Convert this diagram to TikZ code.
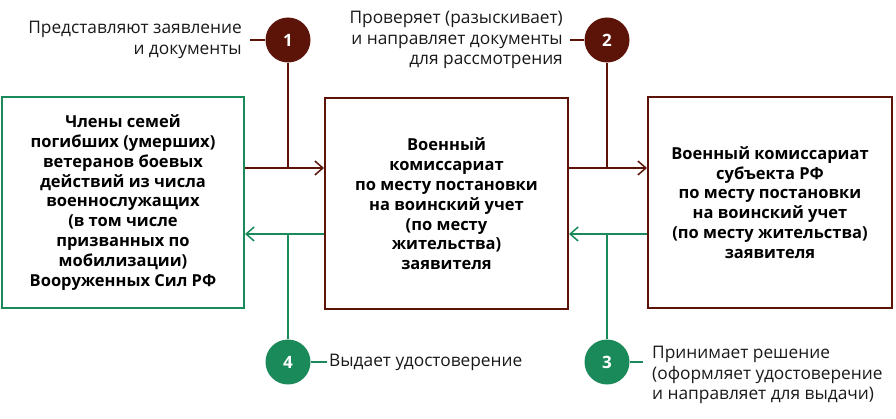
\documentclass[tikz,border=0pt]{standalone}
\usepackage{fontspec}
\setmainfont{Open Sans}
\usetikzlibrary{arrows.meta}
\definecolor{brn}{HTML}{5C1308}
\definecolor{grn}{HTML}{1B8A5A}
\begin{document}
\begin{tikzpicture}[x=1pt,y=-1pt,
  box/.style={draw, line width=2pt, minimum height=211pt, align=center, inner sep=0pt,
    font=\fontsize{16.5}{19.8}\selectfont\bfseries},
  num/.style={circle, minimum size=45pt, inner sep=0pt, text=white,
    font=\fontsize{17}{20}\selectfont\bfseries},
  lbl/.style={align=right, font=\fontsize{17.3}{20.5}\selectfont, text=black!90},
  lbll/.style={align=left, font=\fontsize{17.3}{20.5}\selectfont, text=black!90},
  bline/.style={draw=brn, line width=1.5pt},
  gline/.style={draw=grn, line width=1.5pt},
  tip/.style={-{Straight Barb[length=8pt,width=14pt,line width=1.5pt]}}
]
\useasboundingbox (0,0) rectangle (896,419);

\node[box, draw=grn, minimum width=242pt] (L) at (123,202.5)
  {Члены семей\\погибших (умерших)\\ветеранов боевых\\действий из числа\\военнослужащих\\(в том числе\\призванных по\\мобилизации)\\Вооруженных Сил РФ};
\node[box, draw=brn, minimum width=243pt] (M) at (446.5,204)
  {Военный\\комиссариат\\по месту постановки\\на воинский учет\\(по месту\\жительства)\\заявителя};
\node[box, draw=brn, minimum width=244pt] (R) at (770,202.5)
  {Военный комиссариат\\субъекта РФ\\по месту постановки\\на воинский учет\\(по месту жительства)\\заявителя};

\node[num, fill=brn] (C1) at (288,40) {1};
\node[num, fill=brn] (C2) at (607,40) {2};
\node[num, fill=grn] (C3) at (607,362) {3};
\node[num, fill=grn] (C4) at (288,362) {4};

\node[lbl, anchor=east, inner xsep=8pt, inner ysep=0pt] (T1) at (250,40)
  {Представляют заявление\\и документы};
\node[lbl, anchor=east, inner xsep=7pt, inner ysep=0pt] (T2) at (570,40)
  {Проверяет (разыскивает)\\и направляет документы\\для рассмотрения};
\node[lbll, anchor=west, inner xsep=2pt, inner ysep=0pt] (T4) at (327,362)
  {Выдает удостоверение};
\node[lbll, anchor=west, inner xsep=9pt, inner ysep=0pt] (T3) at (643,375)
  {Принимает решение\\(оформляет удостоверение\\и направляет для выдачи)};

\coordinate (a1) at ([yshift=34.5pt]L.east);
\coordinate (a2) at ([yshift=-31.5pt]L.east);
\coordinate (a3) at ([yshift=34.5pt]R.west);
\coordinate (a4) at ([yshift=-31.5pt]R.west);

\draw[bline, tip] (a1) -- (a1 -| M.west);
\draw[gline, tip] (a2 -| M.west) -- (a2);
\draw[bline, tip] (a3 -| M.east) -- (a3);
\draw[gline, tip] (a4) -- (a4 -| M.east);

\draw[bline, line width=1.2pt] (C1.south) -- (C1.south |- a1);
\draw[bline, line width=1.2pt] (C2.south) -- (C2.south |- a3);
\draw[gline, line width=1.2pt] (C4.north) -- (C4.north |- a2);
\draw[gline, line width=1.2pt] (C3.north) -- (C3.north |- a4);

\draw[bline, line width=1.2pt] (T1.east) -- (C1.west);
\draw[bline, line width=1.2pt] (T2.east) -- (C2.west);
\draw[gline, line width=1.2pt] (C4.east) -- (T4.west);
\draw[gline, line width=1.2pt] (C3.east) -- (C3.east -| T3.west);
\end{tikzpicture}
\end{document}
